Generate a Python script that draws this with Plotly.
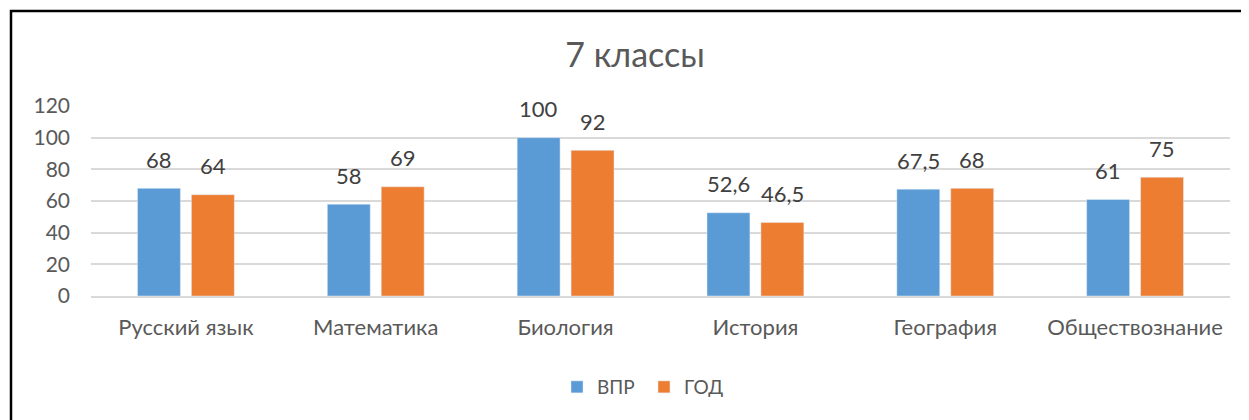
import plotly.graph_objects as go

categories = ["Русский язык", "Математика", "Биология", "История", "География", "Обществознание"]
vpr = [68, 58, 100, 52.6, 67.5, 61]
god = [64, 69, 92, 46.5, 68, 75]
series_names = ["ВПР", "ГОД"]
y_ticks = [0, 20, 40, 60, 80, 100, 120]

def fmt(v):
    return ("%g" % v).replace(".", ",")

FONT = "Lato"
fig = go.Figure()
fig.add_trace(go.Bar(name=series_names[0], x=categories, y=vpr, marker_color="#5B9BD5"))
fig.add_trace(go.Bar(name=series_names[1], x=categories, y=god, marker_color="#ED7D31"))

for vals, shift in ((vpr, -27), (god, 27)):
    for c, v in zip(categories, vals):
        fig.add_annotation(x=c, y=v, xshift=shift, yshift=29, text=fmt(v), showarrow=False,
                           yanchor="middle", xanchor="center",
                           font=dict(size=22, color="#404040", family=FONT))

fig.update_layout(
    width=1241, height=412,
    margin=dict(l=83, r=19, t=98, b=124, autoexpand=False),
    paper_bgcolor="white", plot_bgcolor="white",
    font=dict(family=FONT, color="#595959"),
    title=dict(text="7 классы", x=627 / 1241, xref="container", xanchor="center",
               y=1 - 47 / 412, yanchor="middle",
               font=dict(size=34, color="#595959", family=FONT)),
    barmode="group", bargap=0.432, bargroupgap=0.204,
    showlegend=True,
    legend=dict(orientation="h", x=0.4855, xanchor="center", y=-0.479, yanchor="middle",
                font=dict(size=19, color="#595959", family=FONT), itemwidth=30,
                entrywidth=42, entrywidthmode="pixels",
                traceorder="normal"),
)
fig.update_xaxes(showgrid=False, showline=True, linecolor="#D9D9D9", linewidth=1.5,
                 tickfont=dict(size=22, color="#595959", family=FONT), ticks="", ticklabelstandoff=11)
fig.update_yaxes(range=[0, 120], tickvals=y_ticks, showgrid=True, gridcolor="#D9D9D9", gridwidth=1.5,
                 zeroline=False, showline=False,
                 tickfont=dict(size=21, color="#595959", family=FONT), ticks="", ticklabelstandoff=20)

fig.add_shape(type="rect", xref="paper", yref="paper",
              x0=(3 - 83) / 1139, x1=1.2, y0=-1.0, y1=(288 - 3) / 190,
              line=dict(color="black", width=2.5), fillcolor="rgba(0,0,0,0)", layer="above")

fig.write_html("out.html")
